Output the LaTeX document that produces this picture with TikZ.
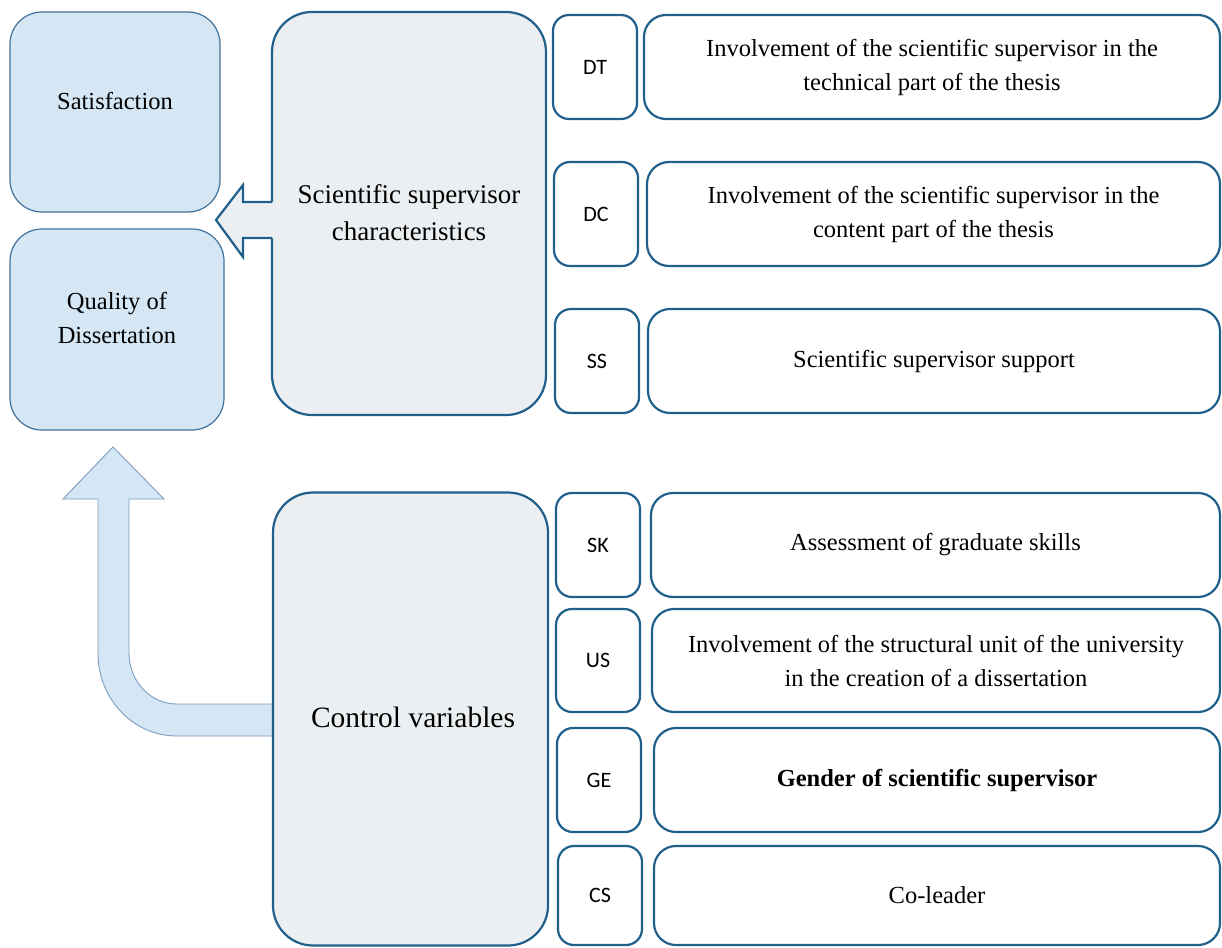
\documentclass[tikz,border=0pt]{standalone}
\usepackage{fontspec}
\setmainfont{Liberation Serif}
\newfontfamily\codefont{Carlito}
\definecolor{bluefill}{HTML}{D5E6F4}
\definecolor{blueline}{HTML}{41729D}
\definecolor{arrowline}{HTML}{7C9DC0}
\definecolor{greyfill}{HTML}{ECEFF1}
\definecolor{darkline}{HTML}{22608C}
\newcommand{\boxfont}{\fontsize{24.5}{34}\selectfont}
\newcommand{\bigfont}{\fontsize{27}{37}\selectfont}
\newcommand{\ctrlfont}{\fontsize{29.5}{36}\selectfont}
\newcommand{\codesize}{\fontsize{22}{26}\selectfont}
\begin{document}
\begin{tikzpicture}[x=1pt,y=-1pt,
  bluebox/.style={rectangle, draw=blueline, fill=bluefill, line width=1.2pt, rounded corners=32pt},
  greybox/.style={rectangle, draw=darkline, fill=greyfill, line width=2.2pt, rounded corners=40pt},
  codebox/.style={rectangle, draw=darkline, fill=white, line width=2.2pt, rounded corners=16pt, minimum width=84pt, font=\codefont\codesize},
  itembox/.style={rectangle, draw=darkline, fill=white, line width=2.2pt, rounded corners=22pt, align=center, font=\boxfont},
  plain/.style={align=center, inner sep=0pt}]
\clip (0,0) rectangle (1222,947);
\fill[white] (0,0) rectangle (1222,947);

% left outcome boxes
\node[bluebox, minimum width=210pt, minimum height=200pt] (sat) at (115,112) {};
\node[plain, font=\boxfont] (sattext) at (115,101) {Satisfaction};
\node[bluebox, minimum width=214pt, minimum height=201pt] (qual) at (117,329.5) {};
\node[plain, font=\boxfont] (qualtext) at (117,318) {Quality of\\Dissertation};

% up arrow (drawn before control box)
\path[fill=bluefill, draw=arrowline, line width=0.9pt, line join=miter]
  (113,447) -- (164,499) -- (129,499) -- (129,653)
  .. controls (129,681) and (150,704) .. (177,704) -- (275,704) -- (275,736) -- (177,736)
  .. controls (133,736) and (98,699) .. (98,653) -- (98,499) -- (63,499) -- cycle;

% characteristic groups
\node[greybox, minimum width=274pt, minimum height=403pt] (sci) at (409,213.5) {};
\node[plain, font=\bigfont] (scitext) at (409,213) {Scientific supervisor\\characteristics};
\node[greybox, minimum width=275pt, minimum height=453pt] (ctrl) at (410.5,719) {};
\node[plain, font=\ctrlfont] (ctrltext) at (413,717) {Control variables};

% left arrow from characteristics box
\fill[greyfill] (275,202) -- (243,202) -- (243,185) -- (216,220) -- (243,257) -- (243,238) -- (275,238) -- cycle;
\draw[darkline, line width=2.2pt, line join=miter]
  (272,202) -- (243,202) -- (243,185) -- (216,220) -- (243,257) -- (243,238) -- (272,238);

% codes and items
\node[codebox, minimum height=104pt] (dt) at (595,67) {DT};
\node[itembox, minimum width=576pt, minimum height=104pt] (dti) at (932,67)
  {Involvement of the scientific supervisor in the\\technical part of the thesis};
\node[codebox, minimum height=104pt] (dc) at (596,214) {DC};
\node[itembox, minimum width=573pt, minimum height=104pt] (dci) at (933.5,214)
  {Involvement of the scientific supervisor in the\\content part of the thesis};
\node[codebox, minimum height=104pt] (ss) at (597,361) {SS};
\node[itembox, minimum width=572pt, minimum height=104pt] (ssi) at (934,361)
  {Scientific supervisor support};

\node[codebox, minimum height=104pt] (sk) at (598,545) {SK};
\node[itembox, minimum width=569pt, minimum height=104pt] (ski) at (935.5,545)
  {Assessment of graduate skills};
\node[codebox, minimum height=103pt] (us) at (598,660.5) {US};
\node[itembox, minimum width=568pt, minimum height=103pt] (usi) at (936,660.5)
  {Involvement of the structural unit of the university\\in the creation of a dissertation};
\node[codebox, minimum height=104pt] (ge) at (599,780) {GE};
\node[itembox, minimum width=566pt, minimum height=104pt, font=\boxfont\bfseries] (gei) at (937,780)
  {Gender of scientific supervisor};
\node[codebox, minimum height=99pt] (cs) at (600,895.5) {CS};
\node[itembox, minimum width=566pt, minimum height=99pt] (csi) at (937,895.5)
  {Co-leader};
\end{tikzpicture}
\end{document}
